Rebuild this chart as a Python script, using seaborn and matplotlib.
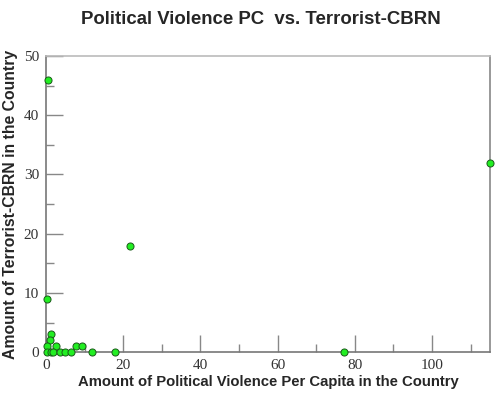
import matplotlib
matplotlib.use("Agg")
import matplotlib.pyplot as plt
import seaborn as sns
import pandas as pd
from matplotlib.ticker import MultipleLocator

# data
pv_per_capita = [0.4, 0.2, 21.8, 115.0, 1.2, 1.0, 0.2, 2.7, 7.8, 9.4,
                 0.2, 1.2, 1.9, 3.6, 4.9, 6.5, 11.9, 18.0, 77.2]
terrorist_cbrn = [46, 9, 18, 32, 3, 2, 1, 1, 1, 1,
                  0, 0, 0, 0, 0, 0, 0, 0, 0]

df = pd.DataFrame({"x": pv_per_capita, "y": terrorist_cbrn})

sns.set_theme(style="white")
fig = plt.figure(figsize=(5.0, 3.97), dpi=100)
ax = fig.add_axes([0.092, 0.113, 0.888, 0.746])

sns.scatterplot(data=df, x="x", y="y", ax=ax, color="#22ee22",
                edgecolor="#1a5a1a", linewidth=0.7, s=26, clip_on=False, zorder=5)

ax.set_xlim(0, 115)
ax.set_ylim(0, 50)
ax.xaxis.set_major_locator(MultipleLocator(20))
ax.xaxis.set_minor_locator(MultipleLocator(10))
ax.yaxis.set_major_locator(MultipleLocator(10))
ax.yaxis.set_minor_locator(MultipleLocator(5))
ax.tick_params(which="major", direction="in", length=12, width=1, color="#888888",
               labelsize=11, pad=5, bottom=True, left=True)
ax.tick_params(which="minor", direction="in", length=6, width=1, color="#888888",
               bottom=True, left=True)
for lab in ax.get_xticklabels() + ax.get_yticklabels():
    lab.set_fontfamily("Liberation Serif")
    lab.set_color("#333333")

ax.spines["left"].set_color("#777777")
ax.spines["bottom"].set_color("#777777")
ax.spines["top"].set_color("#bbbbbb")
ax.spines["right"].set_color("#888888")
for s in ax.spines.values():
    s.set_linewidth(1.2)

ax.set_xlabel("Amount of Political Violence Per Capita in the Country",
              fontsize=10.7, fontweight="bold", family="Liberation Sans")
ax.set_ylabel("Amount of Terrorist-CBRN in the Country",
              fontsize=11.3, fontweight="bold", family="Liberation Sans")
ax.xaxis.set_label_coords(0.5, -0.078)
ax.yaxis.set_label_coords(-0.063, 0.5)
fig.text(0.522, 0.952, "Political Violence PC  vs. Terrorist-CBRN", ha="center", va="center",
         fontsize=13.4, fontweight="bold", family="Liberation Sans")

fig.savefig("out.png", dpi=100)
